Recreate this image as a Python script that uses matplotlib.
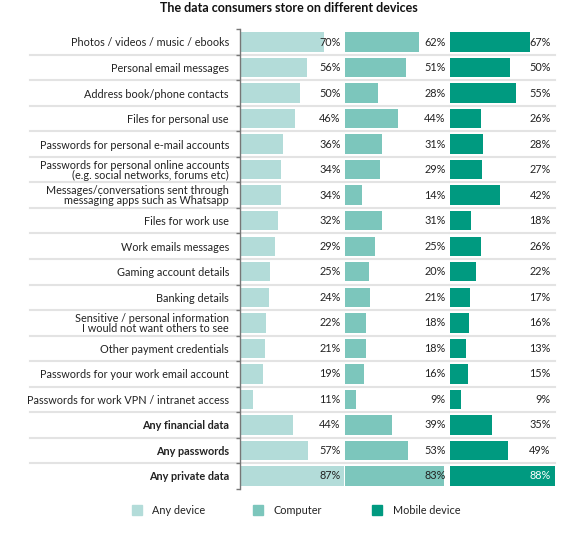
import matplotlib
matplotlib.use("Agg")
import matplotlib.pyplot as plt
from matplotlib.patches import Rectangle
import numpy as np

categories = [
    "Photos / videos / music / ebooks",
    "Personal email messages",
    "Address book/phone contacts",
    "Files for personal use",
    "Passwords for personal e-mail accounts",
    "Passwords for personal online accounts\n(e.g. social networks, forums etc)",
    "Messages/conversations sent through\nmessaging apps such as Whatsapp",
    "Files for work use",
    "Work emails messages",
    "Gaming account details",
    "Banking details",
    "Sensitive / personal information\nI would not want others to see",
    "Other payment credentials",
    "Passwords for your work email account",
    "Passwords for work VPN / intranet access",
    "Any financial data",
    "Any passwords",
    "Any private data",
]
bold_categories = ["Any financial data", "Any passwords", "Any private data"]

any_device = [70, 56, 50, 46, 36, 34, 34, 32, 29, 25, 24, 22, 21, 19, 11, 44, 57, 87]
computer = [62, 51, 28, 44, 31, 29, 14, 31, 25, 20, 21, 18, 18, 16, 9, 39, 53, 83]
mobile = [67, 50, 55, 26, 28, 27, 42, 18, 26, 22, 17, 16, 13, 15, 9, 35, 49, 88]

series_names = ["Any device", "Computer", "Mobile device"]
series_values = [any_device, computer, mobile]
colors = ["#b3dcd9", "#7cc6bc", "#009a80"]

title = "The data consumers store on different devices"

plt.rcParams['font.family'] = ['Lato', 'DejaVu Sans']

W, H = 563, 536
fig = plt.figure(figsize=(W / 100, H / 100), dpi=100)

n = len(categories)
y = np.arange(n)
row_h = (476 - 42) / (n - 1)
top_px = 42 - row_h / 2
bot_px = 476 + row_h / 2
ax_b = 1 - bot_px / H
ax_h = (bot_px - top_px) / H

panel_left = [240, 345, 450]
panel_w = 105
xmax = 88
fs = 7.8

axes = []
for i, (vals, col) in enumerate(zip(series_values, colors)):
    ax = fig.add_axes([panel_left[i] / W, ax_b, panel_w / W, ax_h])
    axes.append(ax)
    ax.barh(y, vals, height=0.76, color=col, zorder=2)
    ax.set_xlim(0, xmax)
    ax.set_ylim(n - 0.5, -0.5)
    ax.set_xticks([])
    for s in ax.spines.values():
        s.set_visible(False)
    for yi, v in zip(y, vals):
        tc = "white" if (col == "#009a80" and v >= 80) else "#222222"
        ax.annotate(f"{v}%", xy=(1, yi), xycoords=("axes fraction", "data"),
                    xytext=(-3, 0), textcoords="offset points",
                    ha="right", va="center", fontsize=fs, color=tc, zorder=3)
    # separators
    left_ext = -(panel_left[i] - 30) / panel_w if i == 0 else 0
    for b in np.arange(0.5, n - 1, 1.0):
        ax.axhline(b, xmin=left_ext, xmax=1, color="#e3e3e3", lw=1.5,
                   zorder=0, clip_on=False)
    if i == 0:
        ax.spines["left"].set_visible(True)
        ax.spines["left"].set_color("#777777")
        ax.spines["left"].set_linewidth(1.0)
        ax.set_yticks(y)
        ax.set_yticklabels(categories, fontsize=fs, color="#222222",
                           linespacing=0.92)
        for lab in ax.get_yticklabels():
            if lab.get_text() in bold_categories:
                lab.set_fontweight("bold")
        ax.tick_params(axis="y", which="major", length=0, pad=8)
        ax.set_yticks(np.arange(-0.5, n, 1.0), minor=True)
        ax.tick_params(axis="y", which="minor", length=3, width=1,
                       color="#777777", direction="out")
    else:
        ax.set_yticks([])

fig.text(289 / W, 1 - 8 / H, title, ha="center", va="center",
         fontsize=9, fontweight="bold", color="#111111")

# legend
leg_sq = [132, 253, 372]
leg_tx = [152, 274, 393]
leg_y = 510
sq = 10
for name, col, sx, tx in zip(series_names, colors, leg_sq, leg_tx):
    fig.add_artist(Rectangle((sx / W, 1 - (leg_y + sq / 2) / H), sq / W, sq / H,
                             transform=fig.transFigure, color=col))
    fig.text(tx / W, 1 - leg_y / H, name, ha="left", va="center",
             fontsize=fs, color="#222222")

fig.savefig("out.png", dpi=100)
